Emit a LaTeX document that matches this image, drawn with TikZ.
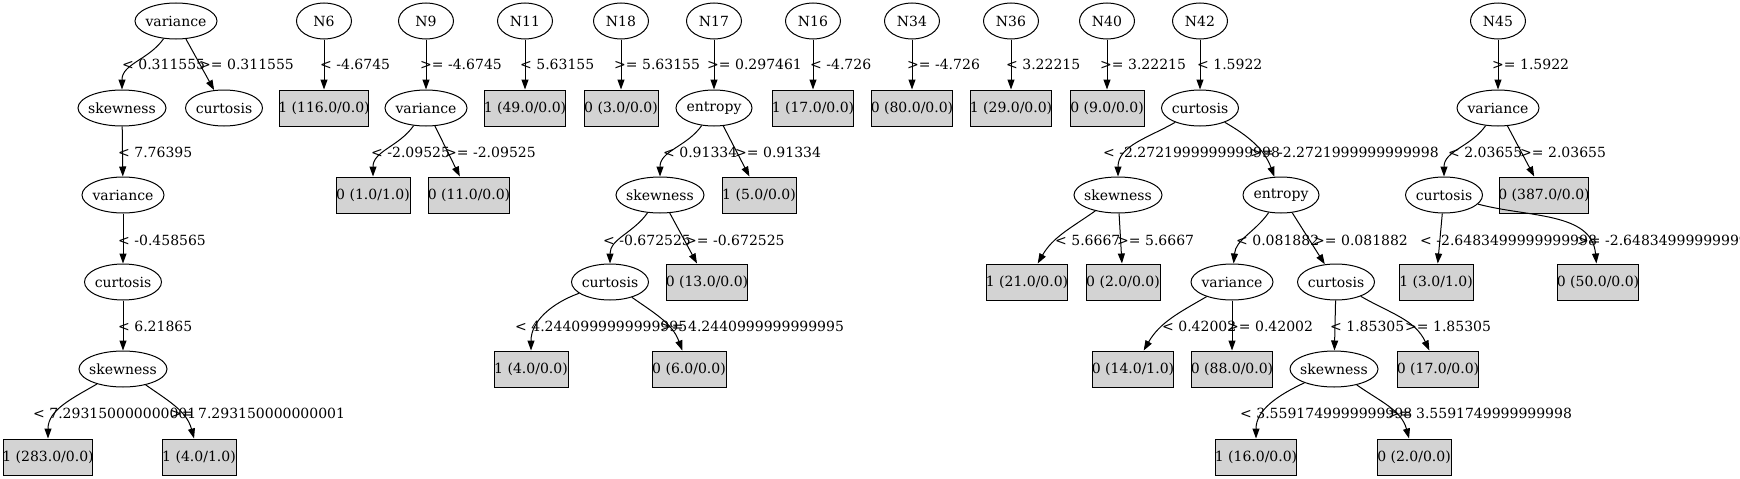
\documentclass[tikz,border=0pt]{standalone}
\usepackage{fontspec}
\setmainfont{DejaVu Serif}
\usepackage{xcolor}
\usepackage{tikz}
\usetikzlibrary{shapes.geometric, arrows.meta}
\definecolor{leafgray}{HTML}{D3D3D3}

\begin{document}
\begin{tikzpicture}[
    x=1pt, y=-1pt,
    font=\fontsize{14}{16}\selectfont,
    feat/.style={ellipse, draw, line width=1pt, inner sep=-4pt, minimum height=36pt, minimum width=#1},
    feat/.default=55pt,
    leaf/.style={rectangle, draw, line width=1pt, fill=leafgray, inner xsep=-1pt, minimum width=74pt, minimum height=36pt},
    lbl/.style={inner sep=0pt, anchor=west},
    branch/.style={-{Triangle[length=10pt, width=7pt]}, line width=1pt},
]
\useasboundingbox (0,0) rectangle (1740,479);

\node[feat=82pt] (v0) at (176,21) {variance};
\node[feat] (n6) at (324,21) {N6};
\node[feat] (n9) at (426,21) {N9};
\node[feat] (n11) at (525,21) {N11};
\node[feat] (n18) at (621,21) {N18};
\node[feat] (n17) at (714,21) {N17};
\node[feat] (n16) at (813,21) {N16};
\node[feat] (n34) at (912,21) {N34};
\node[feat] (n36) at (1011,21) {N36};
\node[feat] (n40) at (1107,21) {N40};
\node[feat] (n42) at (1200,21) {N42};
\node[feat] (n45) at (1498,21) {N45};

\node[feat=88pt] (sk1) at (122,108) {skewness};
\node[feat=77pt] (cu1) at (224,108) {curtosis};
\node[leaf] (l116) at (324,108) {1 (116.0/0.0)};
\node[feat=82pt] (va9) at (426,108) {variance};
\node[leaf] (l49) at (525,108) {1 (49.0/0.0)};
\node[leaf] (l3) at (621,108) {0 (3.0/0.0)};
\node[feat=76pt] (en17) at (714,108) {entropy};
\node[leaf] (l17) at (813,108) {1 (17.0/0.0)};
\node[leaf] (l80) at (912,108) {0 (80.0/0.0)};
\node[leaf] (l29) at (1011,108) {1 (29.0/0.0)};
\node[leaf] (l9) at (1107,108) {0 (9.0/0.0)};
\node[feat=77pt] (cu42) at (1200,108) {curtosis};
\node[feat=82pt] (va45) at (1498,108) {variance};

\node[feat=82pt] (va2) at (123,195) {variance};
\node[leaf] (l1a) at (373,195) {0 (1.0/1.0)};
\node[leaf] (l11) at (469,195) {0 (11.0/0.0)};
\node[feat=88pt] (sk17) at (660,195) {skewness};
\node[leaf] (l5) at (759,195) {1 (5.0/0.0)};
\node[feat=88pt] (sk42) at (1118,195) {skewness};
\node[feat=76pt] (en42) at (1281,195) {entropy};
\node[feat=77pt] (cu45) at (1444,195) {curtosis};
\node[leaf] (l387) at (1544,195) {0 (387.0/0.0)};

\node[feat=77pt] (cu3) at (123,282) {curtosis};
\node[feat=77pt] (cu17) at (610,282) {curtosis};
\node[leaf] (l13) at (707,282) {0 (13.0/0.0)};
\node[leaf] (l21) at (1027,282) {1 (21.0/0.0)};
\node[leaf] (l2a) at (1123,282) {0 (2.0/0.0)};
\node[feat=82pt] (va42) at (1232,282) {variance};
\node[feat=77pt] (cu42b) at (1336,282) {curtosis};
\node[leaf] (l3b) at (1436,282) {1 (3.0/1.0)};
\node[leaf] (l50) at (1598,282) {0 (50.0/0.0)};

\node[feat=88pt] (sk4) at (123,369) {skewness};
\node[leaf] (l4a) at (531,369) {1 (4.0/0.0)};
\node[leaf] (l6) at (689,369) {0 (6.0/0.0)};
\node[leaf] (l14) at (1133,369) {0 (14.0/1.0)};
\node[leaf] (l88) at (1232,369) {0 (88.0/0.0)};
\node[feat=88pt] (sk42b) at (1334,369) {skewness};
\node[leaf] (l17b) at (1438,369) {0 (17.0/0.0)};

\node[leaf] (l283) at (48,457) {1 (283.0/0.0)};
\node[leaf] (l4b) at (199,457) {1 (4.0/1.0)};
\node[leaf] (l16) at (1256,457) {1 (16.0/0.0)};
\node[leaf] (l2b) at (1414,457) {0 (2.0/0.0)};

\draw[branch] (v0) to[out=-125, in=90] (sk1);
\draw[branch] (v0) -- (cu1);
\draw[branch] (sk1) -- (va2);
\draw[branch] (va2) -- (cu3);
\draw[branch] (cu3) -- (sk4);
\draw[branch] (sk4) to[out=-150, in=90] (l283);
\draw[branch] (sk4) to[out=-35, in=105] (l4b);
\draw[branch] (n6) -- (l116);
\draw[branch] (n9) -- (va9);
\draw[branch] (va9) to[out=-125, in=90] (l1a);
\draw[branch] (va9) -- (l11);
\draw[branch] (n11) -- (l49);
\draw[branch] (n18) -- (l3);
\draw[branch] (n17) -- (en17);
\draw[branch] (en17) to[out=-125, in=90] (sk17);
\draw[branch] (en17) -- (l5);
\draw[branch] (sk17) to[out=-125, in=90] (cu17);
\draw[branch] (sk17) -- (l13);
\draw[branch] (cu17) to[out=-160, in=90] (l4a);
\draw[branch] (cu17) to[out=-35, in=110] (l6);
\draw[branch] (n16) -- (l17);
\draw[branch] (n34) -- (l80);
\draw[branch] (n36) -- (l29);
\draw[branch] (n40) -- (l9);
\draw[branch] (n42) -- (cu42);
\draw[branch] (cu42) to[out=-150, in=90] (sk42);
\draw[branch] (cu42) to[out=-30, in=110] (en42);
\draw[branch] (sk42) to[out=-145, in=60] (l21);
\draw[branch] (sk42) -- (l2a);
\draw[branch] (en42) to[out=-125, in=85] (va42);
\draw[branch] (en42) -- (cu42b);
\draw[branch] (va42) to[out=-150, in=60] (l14);
\draw[branch] (va42) -- (l88);
\draw[branch] (cu42b) -- (sk42b);
\draw[branch] (cu42b) to[out=-30, in=115] (l17b);
\draw[branch] (sk42b) to[out=-155, in=90] (l16);
\draw[branch] (sk42b) to[out=-35, in=105] (l2b);
\draw[branch] (n45) -- (va45);
\draw[branch] (va45) to[out=-125, in=90] (cu45);
\draw[branch] (va45) -- (l387);
\draw[branch] (cu45) -- (l3b);
\draw[branch] (cu45) to[out=-15, in=95] (l50);

\node[lbl] (t1) at (122,64) {< 0.311555};
\node[lbl] (t2) at (199,64) {>= 0.311555};
\node[lbl] (t3) at (320,64) {< -4.6745};
\node[lbl] (t4) at (420,64) {>= -4.6745};
\node[lbl] (t5) at (520,64) {< 5.63155};
\node[lbl] (t6) at (614,64) {>= 5.63155};
\node[lbl] (t7) at (707,64) {>= 0.297461};
\node[lbl] (t8) at (810,64) {< -4.726};
\node[lbl] (t9) at (907,64) {>= -4.726};
\node[lbl] (t10) at (1006,64) {< 3.22215};
\node[lbl] (t11) at (1100,64) {>= 3.22215};
\node[lbl] (t12) at (1197,64) {< 1.5922};
\node[lbl] (t13) at (1492,64) {>= 1.5922};

\node[lbl] (t14) at (118,152) {< 7.76395};
\node[lbl] (t15) at (371,152) {< -2.09525};
\node[lbl] (t16) at (445,152) {>= -2.09525};
\node[lbl] (t17) at (663,152) {< 0.91334};
\node[lbl] (t18) at (735,152) {>= 0.91334};
\node[lbl] (t19) at (1103,152) {< -2.2721999999999998};
\node[lbl] (t20) at (1250,152) {>= -2.2721999999999998};
\node[lbl] (t21) at (1448,152) {< 2.03655};
\node[lbl] (t22) at (1520,152) {>= 2.03655};

\node[lbl] (t23) at (118,240) {< -0.458565};
\node[lbl] (t24) at (603,240) {< -0.672525};
\node[lbl] (t25) at (685,240) {>= -0.672525};
\node[lbl] (t26) at (1055,240) {< 5.6667};
\node[lbl] (t27) at (1117,240) {>= 5.6667};
\node[lbl] (t28) at (1236,240) {< 0.081882};
\node[lbl] (t29) at (1313,240) {>= 0.081882};
\node[lbl] (t30) at (1420,240) {< -2.6483499999999998};
\node[lbl] (t31) at (1577,240) {>= -2.6483499999999998};

\node[lbl] (t32) at (118,326) {< 6.21865};
\node[lbl] (t33) at (515,326) {< 4.2440999999999995};
\node[lbl] (t34) at (660,326) {>= 4.2440999999999995};
\node[lbl] (t35) at (1162,326) {< 0.42002};
\node[lbl] (t36) at (1227,326) {>= 0.42002};
\node[lbl] (t37) at (1330,326) {< 1.85305};
\node[lbl] (t38) at (1405,326) {>= 1.85305};

\node[lbl] (t39) at (33,413) {< 7.293150000000001};
\node[lbl] (t40) at (170,413) {>= 7.293150000000001};
\node[lbl] (t41) at (1240,413) {< 3.5591749999999998};
\node[lbl] (t42) at (1388,413) {>= 3.5591749999999998};

\end{tikzpicture}
\end{document}
